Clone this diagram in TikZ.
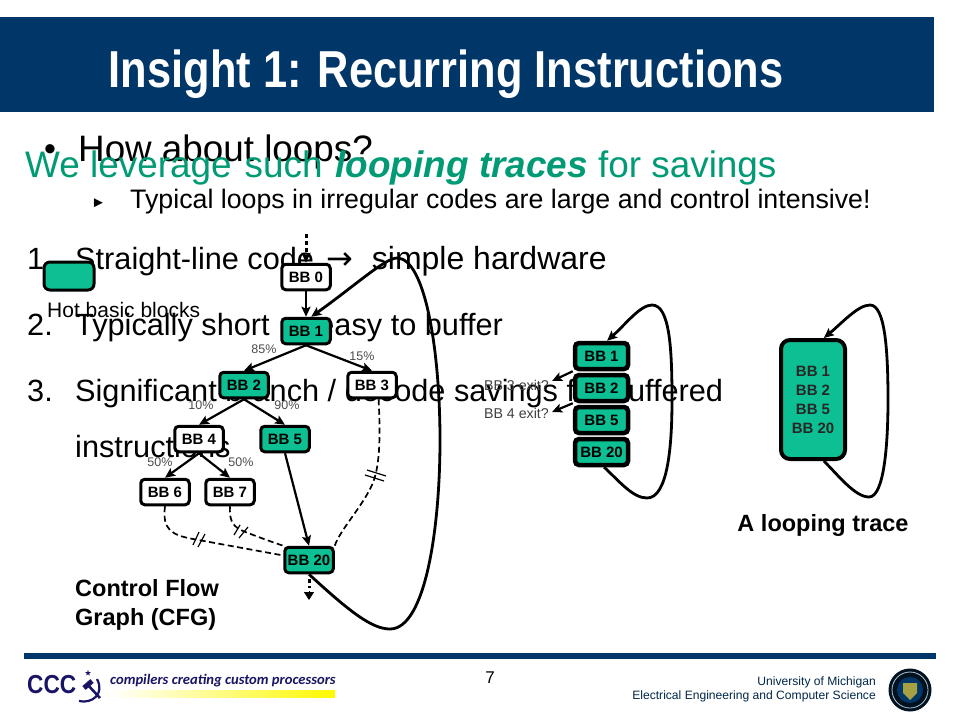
\documentclass[tikz,border=0pt]{standalone}
\usepackage{graphicx}
\usepackage{fontspec}
\setmainfont{Liberation Sans}
\newfontfamily\logofont{Carlito}
\newfontfamily\arrowfont{DejaVu Sans}
\usetikzlibrary{arrows.meta,positioning,shapes.geometric}
\definecolor{hotgreen}{HTML}{0DC094}
\definecolor{navyband}{HTML}{003768}
\definecolor{leadgreen}{HTML}{009A74}
\definecolor{logoblue}{HTML}{1A1464}
\newcommand{\fs}[1]{\fontsize{#1}{#1}\selectfont}

\begin{document}
\begin{tikzpicture}[x=1pt, y=-1pt, node distance=1.5pt,
    >={Stealth[length=10pt,width=9pt,inset=2pt]},
    every node/.append style={align=center, inner sep=0pt},
    bb/.style={draw, line width=3pt, rounded corners=4pt, fill=white, minimum width=48.5pt, minimum height=25.5pt, font=\fs{15}\bfseries},
    hot/.style={bb, fill=hotgreen},
    trc/.style={hot, line width=4.5pt, minimum width=53pt, minimum height=26pt},
    body/.style={anchor=base west, text=black, font=\fs{30.7}},
    pct/.style={font=\fs{12.5}, text=black!70},
    flow/.style={->, line width=2.2pt},
    back/.style={->, line width=2.8pt},
    cut/.style={line width=1.7pt, dashed, dash pattern=on 6pt off 3.5pt},
    tick/.style={line width=1.2pt}]
  \useasboundingbox (0,0) rectangle (960,720);
  \fill[white] (0,0) rectangle (960,720);

  % title band
  \fill[navyband] (0,17) rectangle (934,112);
  \node[anchor=base, text=white, font=\fs{52}\bfseries] (title) at (446,87) {\scalebox{0.835}[1]{Insight 1: Recurring Instructions}};

  % slide text
  \node[anchor=base west, font=\fs{34}] (dot) at (44,160) {•};
  \node[anchor=base west, font=\fs{36.8}] (ask) at (78,161) {How about loops?};
  \node[anchor=base west, text=leadgreen, font=\fs{36.9}, align=left] (lead) at (25,177) {We leverage\hspace{13pt}such\hspace{13pt}\textbf{\textit{looping traces}} for savings};
  \node[anchor=base west, font=\fs{15}] (tri) at (91,207) {►};
  \node[anchor=base west, font=\fs{26.75}] (sub) at (130,208) {Typical loops in irregular codes are large and control intensive!};
  \node[body] (n1) at (27,269) {1.};
  \node[body] (l1) at (75,269) {Straight-line code\hspace{12pt}{\arrowfont\fs{32}→}\hspace{19pt}{\fs{32}simple hardware}};
  \node[body] (n2) at (27,335) {2.};
  \node[body] (l2) at (75,335) {Typically short → easy to buffer};
  \node[body] (n3) at (27,401) {3.};
  \node[body] (l3) at (75,401) {Significant branch / decode savings for buffered};
  \node[body] (l4) at (75,457) {instructions};

  % legend
  \node[hot, minimum width=50pt, minimum height=28pt, rounded corners=6pt] (legend) at (69,276) {};
  \node[anchor=base west, font=\fs{21}] (legendtxt) at (47,317) {Hot basic blocks};

  % control flow graph
  \node[bb]  (B0)  at (306,277) {BB 0};
  \node[hot] (B1)  at (306,331) {BB 1};
  \node[hot] (B2)  at (244,385) {BB 2};
  \node[bb]  (B3)  at (372,385) {BB 3};
  \node[bb]  (B4)  at (199,439) {BB 4};
  \node[hot] (B5)  at (285,439) {BB 5};
  \node[bb]  (B6)  at (165,492) {BB 6};
  \node[bb]  (B7)  at (230,492) {BB 7};
  \node[hot] (B20) at (309,560) {BB 20};
  \coordinate (topin) at (306,234);
  \coordinate (botout) at (309,600);

  \node[pct] (p85) at (264,349) {85\%};
  \node[pct] (p15) at (362,356) {15\%};
  \node[pct] (p10) at (201,405) {10\%};
  \node[pct] (p90) at (287,405) {90\%};
  \node[pct] (p50a) at (160,462) {50\%};
  \node[pct] (p50b) at (241,462) {50\%};

  \draw[line width=3pt, dash pattern=on 4pt off 3pt] (topin) -- (306,258);
  \path[flow] (306,256) edge (B0)
   (B0) edge (B1)
   (B1.south) edge (B2.north)
   (B1.south) edge (B3.north)
   (B2.south) edge (B4.north)
   (B2.south) edge (B5.north)
   (B4.south) edge (B6.north)
   (B4.south) edge (B7.north)
   (B5.south) edge (B20.north);
  \draw[line width=3pt, dash pattern=on 4pt off 3pt] (B20.south)+(0,5) -- +(0,14);
  \draw[-{Triangle[length=8pt,width=10pt]}, line width=1pt] (309,591) -- (botout);

  \draw[cut] (B3.-65) .. controls (380,430) and (381,465) .. (372,485) .. controls (362,507) and (340,530) .. (B20.north east);
  \draw[cut] (B6.south) .. controls (162,530) and (172,535) .. (193,539) -- (B20.170);
  \draw[cut] (B7.south) .. controls (229,522) and (234,527) .. (243,531) .. controls (258,537) and (272,542) .. (B20.north west);
  \draw[tick] (367,470) -- (386,476) (365,475) -- (384,481);
  \draw[tick] (193,545) -- (199,532) (198,547) -- (205,534);
  \draw[tick] (234,535) -- (240,525) (239,538) -- (248,527);

  \draw[back] (B20.south) .. controls (350,612) and (372,629) .. (390,629) .. controls (425,629) and (440,530) .. (440,440) .. controls (440,350) and (425,258) .. (397,258) .. controls (385,258) and (352,288) .. (B1.70);

  \node[anchor=base west, font=\fs{23.5}\bfseries, align=left] (cfg1) at (75,596) {Control Flow};
  \node[anchor=base west, font=\fs{23.5}\bfseries, align=left] (cfg2) at (75,625) {Graph (CFG)};

  % trace in a row
  \coordinate (exit3) at (552,381);
  \coordinate (exit4) at (552,412);
  \node[trc] (T1) at (601.5,356) {BB 1};
  \node[trc, below=of T1] (T2) {BB 2};
  \node[trc, below=of T2] (T5) {BB 5};
  \node[trc, below=of T5] (T20) {BB 20};
  \path[flow] (T1.south west) edge (exit3)
   (T2.south west) edge (exit4);
  \node[anchor=base east, font=\fs{14.2}, text=black!75] (x3) at (549,390) {BB 3 exit?};
  \node[anchor=base east, font=\fs{14.2}, text=black!75] (x4) at (549,418) {BB 4 exit?};
  \draw[back] (T20.-80) .. controls (620,482) and (633,498) .. (647,498) .. controls (668,498) and (672,445) .. (672,400) .. controls (672,350) and (670,305) .. (652,305) .. controls (640,305) and (625,325) .. (T1.70);

  % the looping trace
  \node[trc, line width=4pt, minimum width=64pt, minimum height=119pt, rounded corners=9pt, text=black!85] (LT) at (813,399.5) {BB 1\\[4pt]BB 2\\[4pt]BB 5\\[4pt]BB 20};
  \draw[back] (LT.-80) .. controls (838,475) and (855,497) .. (869,497) .. controls (884,497) and (888,445) .. (888,400) .. controls (888,350) and (885,305) .. (870,305) .. controls (858,305) and (842,323) .. (LT.80);
  \node[font=\fs{23.5}\bfseries] (looptxt) at (823,525) {A looping trace};

  % footer
  \fill[navyband] (24,653) rectangle (936,659);
  \node[font=\fs{17}] (page) at (490,678) {7};
  \node[anchor=base east, font=\fs{12.1}, text=navyband!70!black] (uni1) at (876,685) {University of Michigan};
  \node[anchor=base east, font=\fs{12.1}, text=navyband!70!black] (uni2) at (876,699) {Electrical Engineering and Computer Science};
  \fill[black!70!navyband] (910,690) circle (21.5);
  \draw[white!70!navyband, line width=0.8pt] (910,690) circle (18);
  \fill[navyband] (910,690) circle (13);
  \fill[yellow!60!black] (903,683) -- (917,683) -- (917,693) -- (910,700) -- (903,693) -- cycle;

  \node[anchor=base west, text=logoblue, font=\fs{26}\bfseries] (ccc) at (27,693) {\scalebox{0.87}[1]{CCC}};
  \node[star, star points=5, star point ratio=2.4, fill=logoblue, minimum size=6pt] (logostar) at (88,673) {};
  \draw[logoblue, line width=2.2pt] (79,701) .. controls (92,704) and (105,694) .. (97,679);
  \draw[logoblue, line width=2.6pt] (87,684) -- (100,698);
  \draw[logoblue, line width=5pt] (92,681) -- (84,688);
  \node[anchor=base west, text=logoblue, font=\logofont\fs{14.6}\bfseries\itshape] (motto) at (110,684) {compilers creating custom processors};
  \shade[left color=white, right color=yellow!95!orange] (110,690) rectangle (335,697);
\end{tikzpicture}
\end{document}
